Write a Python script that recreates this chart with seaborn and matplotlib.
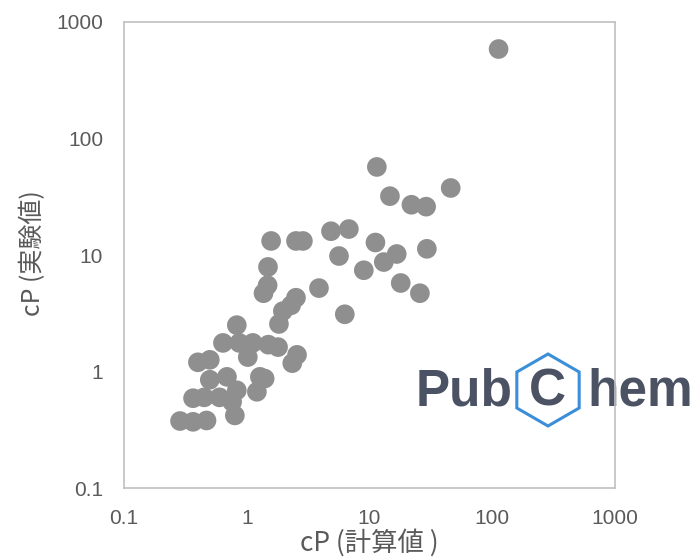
import pandas as pd
import matplotlib.pyplot as plt
import seaborn as sns
from matplotlib.patches import RegularPolygon

# calculated vs experimental viscosity (cP)
calc_cp = [113, 11.5, 46, 14.7, 22, 29, 4.86, 6.8, 1.58, 2.52, 2.87, 11.2, 29.4,
           5.65, 16.7, 13.1, 9.0, 1.49, 3.88, 18, 25.8, 6.3, 1.48, 1.37, 2.52, 2.3,
           1.97, 1.83, 0.83, 0.64, 0.87, 1.12, 1.5, 1.8, 2.57, 2.35, 1.02, 0.40,
           0.50, 1.28, 0.69, 0.50, 1.21, 0.365, 0.45, 0.60, 0.76, 0.80, 0.286,
           0.365, 0.47, 0.83, 1.40]
exp_cp = [586, 57, 37.6, 32, 27, 26, 16, 16.7, 13.2, 13.2, 13.2, 12.8, 11.3,
          9.8, 10.2, 8.7, 7.4, 7.9, 5.2, 5.75, 4.7, 3.1, 5.5, 4.7, 4.3, 3.7,
          3.3, 2.56, 2.5, 1.76, 1.76, 1.76, 1.70, 1.62, 1.39, 1.18, 1.33, 1.2,
          1.26, 0.90, 0.90, 0.85, 0.67, 0.59, 0.60, 0.60, 0.55, 0.42, 0.376,
          0.37, 0.38, 0.69, 0.87]

ticks = [0.1, 1, 10, 100, 1000]
tick_labels = ['0.1', '1', '10', '100', '1000']

df = pd.DataFrame({'calc': calc_cp, 'exp': exp_cp})

sns.set_style('white')
plt.rcParams['font.family'] = ['Liberation Sans', 'Noto Sans CJK JP', 'DejaVu Sans']

fig = plt.figure(figsize=(6.97, 5.58), dpi=100)
ax = fig.add_axes([0.178, 0.1254, 0.704, 0.8352])
ax.set_facecolor('none')

sns.scatterplot(data=df, x='calc', y='exp', ax=ax, s=200, color='#8f8f8f',
                edgecolor='none', linewidth=0, legend=False)

ax.set_xscale('log')
ax.set_yscale('log')
ax.set_xlim(0.1, 1000)
ax.set_ylim(0.1, 1000)
ax.set_xticks(ticks)
ax.set_xticklabels(tick_labels)
ax.set_yticks(ticks)
ax.set_yticklabels(tick_labels)
ax.minorticks_off()
ax.tick_params(length=0, pad=15, labelsize=15, labelcolor='#5a5a5a')

for sp in ax.spines.values():
    sp.set_color('#c0c0c0')
    sp.set_linewidth(1.2)

cjk = ['Noto Sans CJK JP', 'DejaVu Sans']
ax.set_xlabel('cP (計算値 )', fontsize=19, color='#5a5a5a', family=cjk)
ax.set_ylabel('cP (実験値)', fontsize=18, color='#5a5a5a', family=cjk)
ax.xaxis.set_label_coords(0.5, -0.118)
ax.xaxis.label.set_va('center')
ax.yaxis.set_label_coords(-0.185, 0.504)
ax.yaxis.label.set_va('center')

# PubChem watermark (drawn beneath the axes so the spine shows through)
logo_color = '#4b5263'
base = 1 - 405 / 558
for txt, xpos, ha in [('Pub', 416, 'left'), ('C', 547, 'center'), ('hem', 587, 'left')]:
    fig.text(xpos / 697, base, txt, fontsize=37, fontweight='bold', color=logo_color,
             va='baseline', ha=ha, family='Liberation Sans', zorder=-1)
hexagon = RegularPolygon((5.48, (558 - 390) / 100), numVertices=6, radius=0.36,
                         orientation=0, fill=False, edgecolor='#3b8ed8',
                         linewidth=2.2, transform=fig.dpi_scale_trans, zorder=-1)
fig.patches.append(hexagon)

plt.savefig('out.png', dpi=100)
